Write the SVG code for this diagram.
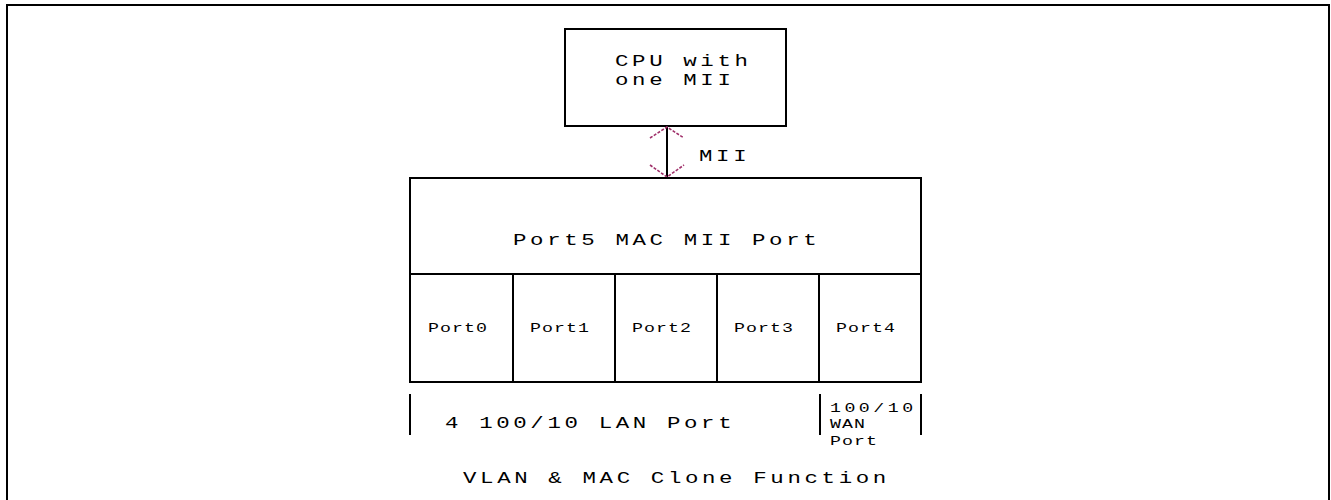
<svg xmlns="http://www.w3.org/2000/svg" width="1331" height="500" viewBox="0 0 1331 500">
<style>
.box{fill:#fff;stroke:#000;stroke-width:2}
.ln{stroke:#000;stroke-width:2;fill:none}
.t{font-family:"Liberation Mono","Courier New",monospace;fill:#000}
.big{font-size:16px;letter-spacing:2.6px}
.sm{font-size:13.5px;letter-spacing:0.8px}
.wan{font-size:13.5px;letter-spacing:2.6px}
.arr{stroke:#a0306a;stroke-width:1.6;fill:none;stroke-dasharray:3 1.5}
</style>
<rect width="1331" height="500" fill="#fff"/>
<g id="frame"><path class="ln" d="M7,510 V5 H1329 V510"/></g>
<g id="cpu">
<rect class="box" x="565" y="29" width="221" height="97"/>
<text class="t big" transform="translate(615,66) scale(1.4,1)">CPU with</text>
<text class="t big" transform="translate(615,85) scale(1.4,1)">one MII</text>
</g>
<g id="connectors">
<line class="ln" x1="667" y1="126" x2="667" y2="178"/>
<path class="arr" d="M650,138 L667,127 L684,138"/>
<path class="arr" d="M650,165 L667,177 L684,165"/>
<text class="t big" transform="translate(699,161) scale(1.4,1)">MII</text>
</g>
<g id="port5">
<rect class="box" x="410" y="178" width="511" height="96"/>
<text class="t big" transform="translate(513,245) scale(1.4,1)">Port5 MAC MII Port</text>
</g>
<g id="port0"><rect class="box" x="410" y="274" width="103" height="108"/><text class="t sm" transform="translate(428,332) scale(1.35,1)">Port0</text></g>
<g id="port1"><rect class="box" x="513" y="274" width="102" height="108"/><text class="t sm" transform="translate(530,332) scale(1.35,1)">Port1</text></g>
<g id="port2"><rect class="box" x="615" y="274" width="102" height="108"/><text class="t sm" transform="translate(632,332) scale(1.35,1)">Port2</text></g>
<g id="port3"><rect class="box" x="717" y="274" width="102" height="108"/><text class="t sm" transform="translate(734,332) scale(1.35,1)">Port3</text></g>
<g id="port4"><rect class="box" x="819" y="274" width="102" height="108"/><text class="t sm" transform="translate(836,332) scale(1.35,1)">Port4</text></g>
<g id="lan">
<line class="ln" x1="410" y1="394" x2="410" y2="435"/>
<text class="t big" transform="translate(445,428) scale(1.4,1)">4 100/10 LAN Port</text>
</g>
<g id="wan">
<line class="ln" x1="820" y1="394" x2="820" y2="435"/>
<line class="ln" x1="921" y1="394" x2="921" y2="435"/>
<text class="t wan" transform="translate(830,412) scale(1.35,1)">100/10</text>
<text class="t sm" transform="translate(830,428) scale(1.35,1)">WAN</text>
<text class="t sm" transform="translate(830,445) scale(1.35,1)">Port</text>
</g>
<g id="caption"><text class="t big" transform="translate(463,483) scale(1.4,1)">VLAN &amp; MAC Clone Function</text></g>
</svg>
